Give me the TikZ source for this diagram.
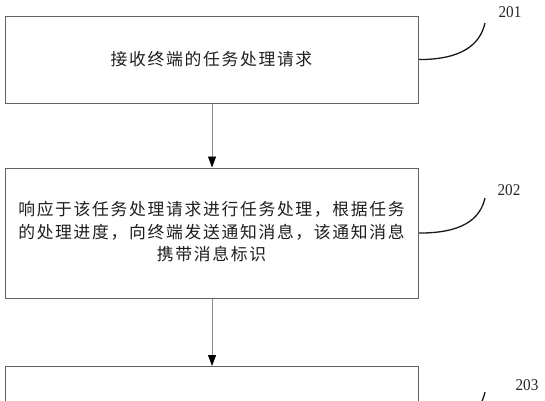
\documentclass[tikz,border=0pt]{standalone}
\usepackage{fontspec}
\newfontfamily\cjk[LetterSpace=10]{Noto Sans CJK SC}
\newfontfamily\numfont{Liberation Serif}
\usetikzlibrary{arrows.meta}
\begin{document}
\begin{tikzpicture}[x=1pt,y=-1pt,
  stepbox/.style={draw=black!62, line width=1.1pt, fill=white, minimum width=413pt, inner sep=0pt, anchor=north west},
  txt/.style={font=\cjk\fontsize{16.8}{22.5}\selectfont, text=black!88, align=center},
  flow/.style={draw=black!45, line width=0.9pt, -{Triangle[length=11pt,width=8pt,color=black,fill=black]}},
  lead/.style={draw=black!90, line width=1.3pt},
  numlab/.style={font=\numfont\fontsize{16.5}{18}\selectfont, text=black!85, xscale=0.92}]
\clip (0,0) rectangle (545,400);
\fill[white] (0,0) rectangle (545,400);
% boxes
\node[stepbox, minimum height=87pt] (b1) at (5,15.5) {};
\node[txt] (t1) at (211.5,59) {接收终端的任务处理请求};
\node[stepbox, minimum height=130pt] (b2) at (5,167.5) {};
\node[txt] (t2) at (211.5,232) {响应于该任务处理请求进行任务处理，根据任务\\的处理进度，向终端发送通知消息，该通知消息\\携带消息标识};
\node[stepbox, minimum height=120pt] (b3) at (5,366) {};
% arrows
\draw[flow] (b1.south) -- (b2.north);
\draw[flow] (b2.south) -- (b3.north);
% labels
\node[numlab] (n1) at (510,12) {201};
\node[numlab] (n2) at (509,190) {202};
\node[numlab] (n3) at (527,385) {203};
\coordinate (c1) at (485,23);
\coordinate (c2) at (485,198);
\coordinate (c3) at (485,392);
\draw[lead] (b1.east) .. controls +(42,0) and +(-5,22) .. (c1);
\draw[lead] (b2.east) .. controls +(42,0) and +(-5,22) .. (c2);
\draw[lead] ([yshift=-5pt]b3.east) .. controls +(42,0) and +(-5,22) .. (c3);
\end{tikzpicture}
\end{document}
